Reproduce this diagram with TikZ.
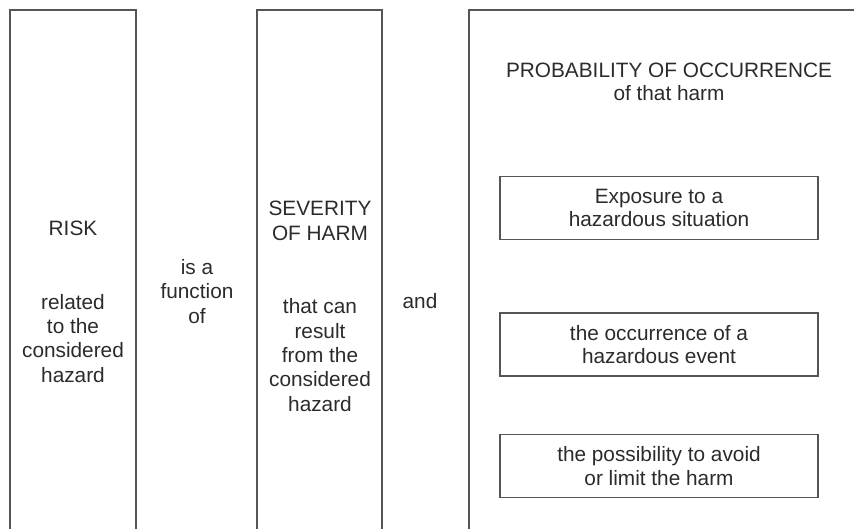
\documentclass[tikz,border=0pt]{standalone}
\usepackage{fontspec}
\setmainfont{Liberation Sans}
\definecolor{ln}{HTML}{555555}
\definecolor{tx}{HTML}{2B2B2B}
\begin{document}
\begin{tikzpicture}[x=1pt,y=-1pt,
  frame/.style={draw=ln,line width=1.8pt},
  lbl/.style={text=tx,font=\fontsize{20.8}{24.3}\selectfont,align=center,inner sep=0pt,anchor=base},
  subbox/.style={draw=ln,line width=1.6pt,minimum width=318pt,minimum height=63pt,inner sep=0pt,
    text=tx,font=\fontsize{20.8}{23.3}\selectfont,align=center}]
\useasboundingbox (0,0) rectangle (854,528);
\begin{scope}
\clip (0,0) rectangle (854,528);
\coordinate (a1) at (10,540);
\coordinate (a2) at (136,540);
\coordinate (b1) at (257,540);
\coordinate (b2) at (382,540);
\coordinate (c1) at (469,540);
\coordinate (c2) at (870,10);
\draw[frame] (a1) |- (136,10) -- (a2);
\draw[frame] (b1) |- (382,10) -- (b2);
\draw[frame] (c1) |- (c2);
\end{scope}
% base anchor of a multi-line node = baseline of its last line
\node[lbl] (risk) at (73,235) {RISK};
\node[lbl] (rel) at (73,382) {related\\to the\\considered\\hazard};
\node[lbl] (func) at (197,323) {is a\\function\\of};
\node[lbl] (sev) at (320,240) {SEVERITY\\OF HARM};
\node[lbl] (res) at (320,411) {that can\\result\\from the\\considered\\hazard};
\node[lbl] (and) at (420,308) {and};
\node[lbl,font=\fontsize{20.8}{22.7}\selectfont] (prob) at (669,100) {PROBABILITY OF OCCURRENCE\\of that harm};
\node[subbox] (exp) at (659,208) {Exposure to a\\hazardous situation};
\node[subbox] (occ) at (659,344.5) {the occurrence of a\\hazardous event};
\node[subbox] (avo) at (659,466) {the possibility to avoid\\or limit the harm};
\end{tikzpicture}
\end{document}
